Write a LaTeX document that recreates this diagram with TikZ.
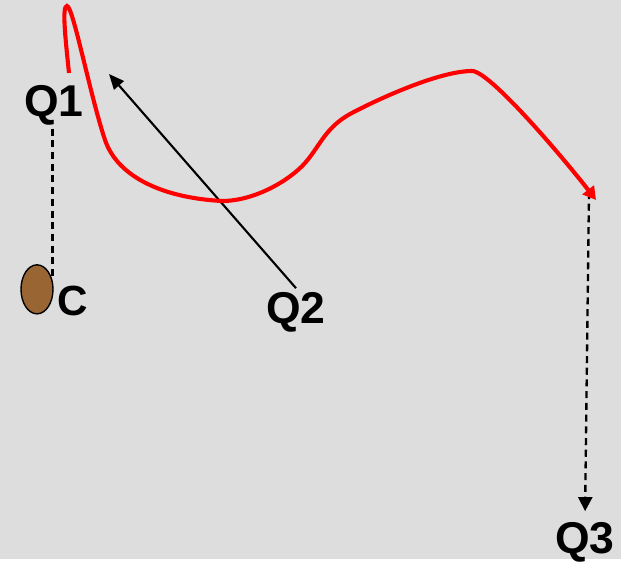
\documentclass[tikz,border=0pt]{standalone}
\usepackage{fontspec}
\setmainfont{Liberation Sans}
\usetikzlibrary{arrows.meta,shapes.geometric}
\definecolor{panelgrey}{HTML}{DDDDDD}
\definecolor{seedcol}{HTML}{996633}
\definecolor{pathred}{HTML}{FF0000}
\tikzset{
  qlabel/.style = {font=\fontsize{38}{40}\selectfont\bfseries, anchor=base,
                   inner sep=3pt},
  clabel/.style = {font=\fontsize{36}{38}\selectfont\bfseries, anchor=base,
                   inner sep=2pt},
  seed/.style   = {ellipse, draw=black, line width=1.2pt, fill=seedcol,
                   minimum width=0.96cm, minimum height=1.47cm, inner sep=0pt},
  link/.style   = {draw=black, line width=2pt, dash pattern=on 6pt off 4pt},
  drop/.style   = {link, -{Triangle[length=12pt,width=12pt]}},
  pull/.style   = {-{Triangle[length=13pt,width=11pt]}, draw=black, line width=1.8pt},
  route/.style  = {-{Triangle[length=11pt,width=12pt]}, draw=pathred, line width=3.5pt},
}

\begin{document}
\begin{tikzpicture}[x=1cm, y=1cm]
    \fill[panelgrey] (0,0) rectangle (18.63,16.77);

    % ---------------- labels and seed
    \node[qlabel] (q1) at (1.62,13.29) {Q1};
    \node[qlabel] (q2) at (8.88,7.08) {Q2};
    \node[qlabel] (q3) at (17.55,0.18) {Q3};
    \node[seed] (c) at (1.11,8.09) {};
    \node[clabel] (cl) at (2.18,7.32) {C};

    \coordinate (aim) at (3.27,14.55);
    \coordinate (bend) at (17.67,11.01);

    % ---------------- connectors
    \draw[link] (c.30 |- q1.south) -- (c.30);
    \draw[pull] (q2.north) -- (aim);
    \draw[drop, shorten >=6pt] (bend) -- (q3.north);

    % ---------------- red route
    \draw[route] (2.07,14.58)
      .. controls (1.95,15.72) and (1.86,16.59) .. (2.01,16.59)
      .. controls (2.19,16.59) and (2.70,13.92) .. (3.15,12.57)
      .. controls (3.54,11.43) and (4.95,10.83) .. (6.66,10.74)
      .. controls (7.65,10.74) and (8.70,11.37) .. (9.15,11.88)
      .. controls (9.60,12.39) and (9.75,12.93) .. (10.50,13.35)
      .. controls (11.40,13.83) and (13.20,14.64) .. (14.16,14.64)
      .. controls (14.70,14.64) and (16.95,11.97) .. (17.88,10.77);
\end{tikzpicture}
\end{document}
